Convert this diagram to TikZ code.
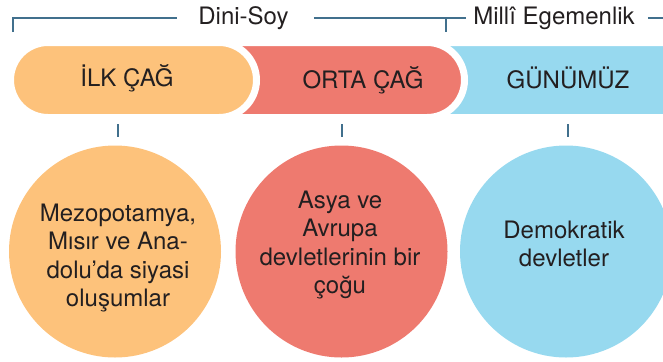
\documentclass[tikz,border=0pt]{standalone}
\usepackage{fontspec}
\setmainfont{TeX Gyre Heros}
\newdimen\unitsize
\setlength{\unitsize}{0.75pt}
\definecolor{ilkc}{HTML}{FDC27B}
\definecolor{ortac}{HTML}{EE7A6F}
\definecolor{gunc}{HTML}{97D9EF}
\definecolor{linec}{HTML}{41708D}
\definecolor{textc}{HTML}{231F20}
\tikzset{
  pill/.style={rectangle,rounded corners=37.5\unitsize,draw=white,line width=7\unitsize,
    minimum height=75\unitsize,inner sep=0pt},
  blob/.style={circle,minimum size=212\unitsize,inner sep=0pt},
  txt/.style={text=textc,align=center,inner sep=0pt,font=\fontsize{18}{21.4}\selectfont},
  bracket/.style={draw=linec,line width=2\unitsize}
}
\begin{document}
\begin{tikzpicture}[x=\unitsize,y=-\unitsize]
\useasboundingbox (0,0) rectangle (663,361);
% periods
\node[pill,fill=gunc,minimum width=350\unitsize] (gun) at (565,80) {};
\node[pill,fill=ortac,minimum width=284.5\unitsize] (orta) at (322.25,80) {};
\node[pill,fill=ilkc,minimum width=246\unitsize] (ilk) at (133.5,80) {};
\node[txt] (ilklbl) at (127,78) {İLK ÇAĞ};
\node[txt] (ortalbl) at (363,80) {ORTA ÇAĞ};
\node[txt] (gunlbl) at (568,78) {GÜNÜMÜZ};
% top bracket
\node[txt] (dini) at (243.5,18) {Dini-Soy};
\node[txt] (milli) at (554,18) {Millî Egemenlik};
\draw[bracket] (13,32) |- ([xshift=-21\unitsize]dini.west);
\draw[bracket] ([xshift=25\unitsize]dini.east) -- ([xshift=-7\unitsize]milli.west);
\draw[bracket] (446,18) -- (446,32);
\draw[bracket] ([xshift=13\unitsize]milli.east) -- (663,18);
% ticks
\foreach \tkx [count=\tki] in {118,342,568}{
  \coordinate (tk\tki) at (\tkx,124);
  \draw[bracket,line width=2.5\unitsize] (tk\tki) -- ++(0,13);
}
% states
\node[blob,fill=ilkc] (ilkblob) at (115,251.5) {};
\node[blob,fill=ortac] (ortablob) at (341.5,251.5) {};
\node[blob,fill=gunc] (gunblob) at (566,251.5) {};
\node[txt] (ilktxt) at (118,258) {Mezopotamya,\\Mısır ve Ana-\\dolu’da siyasi\\oluşumlar};
\node[txt] (ortatxt) at (340,245) {Asya ve\\Avrupa\\devletlerinin bir\\çoğu};
\node[txt] (guntxt) at (564,244) {Demokratik\\devletler};
\end{tikzpicture}
\end{document}
